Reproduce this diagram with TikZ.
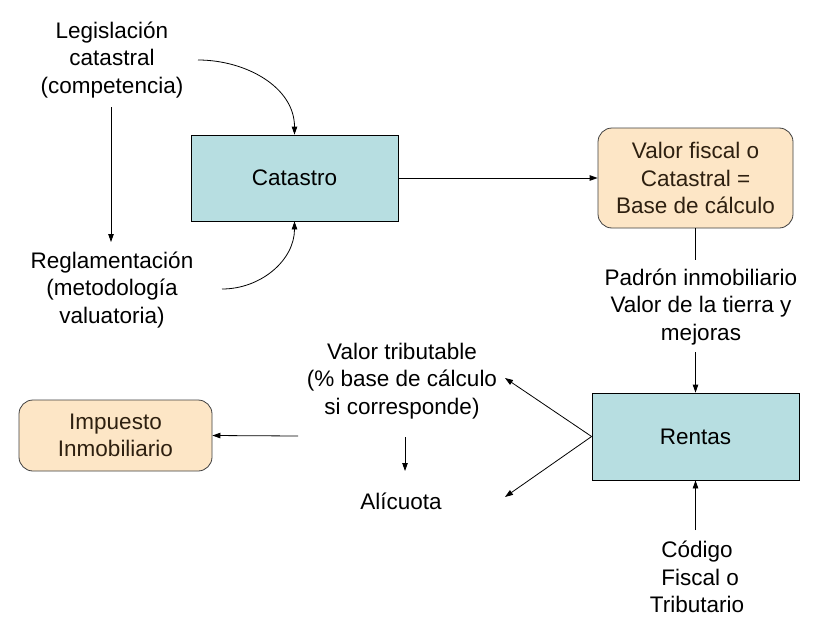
\documentclass[tikz,border=0pt]{standalone}
\usepackage{fontspec}
\setmainfont{Liberation Sans}
\usetikzlibrary{arrows.meta}
\definecolor{boxblue}{HTML}{B7DEE1}
\definecolor{boxorange}{HTML}{FDE6C6}
\definecolor{darkbrown}{HTML}{2E2010}
\begin{document}
\begin{tikzpicture}[x=1pt,y=-1pt,
  txt/.style={align=center, font=\fontsize{22.5}{27.5}\selectfont, inner sep=0pt},
  bluebox/.style={txt, draw=black, line width=0.8pt, fill=boxblue},
  orangebox/.style={txt, draw=black!75, line width=0.8pt, fill=boxorange, rounded corners=14pt, text=darkbrown},
  arr/.style={line width=0.8pt, -{Triangle[length=8pt,width=5.5pt]}},
  ln/.style={line width=0.8pt}]
\useasboundingbox (0,0) rectangle (829,634);
\fill[white] (0,0) rectangle (829,634);
% nodes
\node[txt] (legis) at (112,60) {Legislación\\catastral\\(competencia)};
\node[txt] (regla) at (112,290) {Reglamentación\\(metodología\\valuatoria)};
\node[bluebox, minimum width=207pt, minimum height=86pt] (cat) at (294.5,178) {Catastro};
\node[orangebox, minimum width=195pt, minimum height=100pt] (valor) at (695.5,178) {Valor fiscal o\\Catastral =\\Base de cálculo};
\node[txt] (padron) at (701,307) {Padrón inmobiliario\\Valor de la tierra y\\mejoras};
\node[bluebox, minimum width=207pt, minimum height=87pt] (rentas) at (695.5,436.5) {Rentas};
\node[txt] (codigo) at (697,577) {Código\\\ Fiscal o\\Tributario};
\node[txt] (vtrib) at (402,381) {Valor tributable\\(\% base de cálculo\\si corresponde)};
\node[txt] (alic) at (401,501) {Alícuota};
\node[orangebox, minimum width=193pt, minimum height=71pt] (imp) at (115.5,435.5) {Impuesto\\Inmobiliario};
% coordinates
\coordinate (c1) at (198,60);
\coordinate (c2) at (222,289);
\coordinate (c3) at (111,107);
\coordinate (c4) at (111,242);
\coordinate (c5) at (695.5,260);
\coordinate (c6) at (695.5,352);
\coordinate (c7) at (505,378);
\coordinate (c8) at (505,497);
\coordinate (c9) at (298,436);
\coordinate (c10) at (405,437);
\coordinate (c11) at (405,471);
\coordinate (c12) at (695.5,530);
% connectors
\draw[arr] (c1) to[out=0,in=90] (cat.north);
\draw[arr] (c2) to[out=0,in=-90] (cat.south);
\draw[arr] (c3) -- (c4);
\draw[arr] (cat.east) -- (valor.west);
\draw[ln] (valor.south) -- (c5);
\draw[arr] (c6) -- (rentas.north);
\draw[arr] (rentas.west) -- (c7);
\draw[arr] (rentas.west) -- (c8);
\draw[arr] (c9) -- (imp.east);
\draw[arr] (c10) -- (c11);
\draw[arr] (c12) -- (rentas.south);
\end{tikzpicture}
\end{document}
